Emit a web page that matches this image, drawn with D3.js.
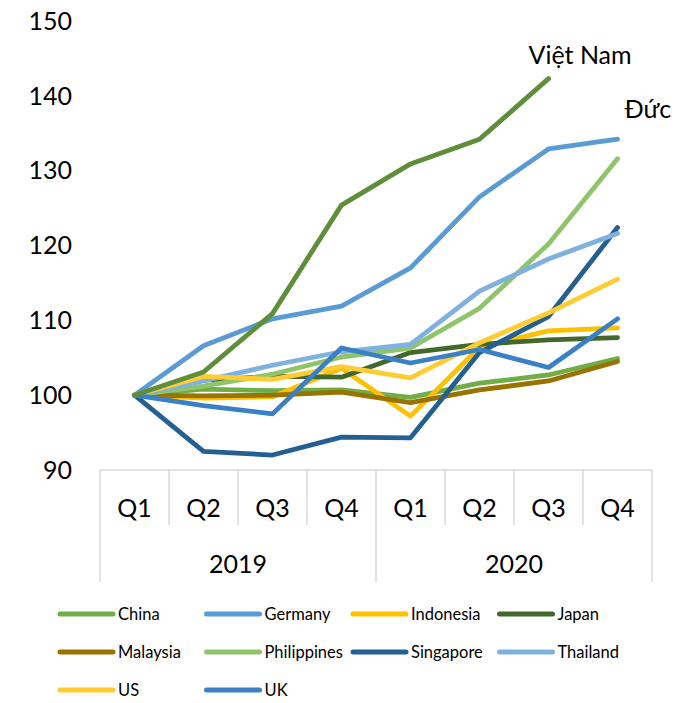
<!DOCTYPE html>
<html>
<head>
<meta charset="utf-8">
<script src="https://cdn.jsdelivr.net/npm/d3@7"></script>
<style>
  body { margin: 0; background: #fff; }
  svg { display: block; font-family: Lato, "Open Sans", sans-serif; }
</style>
</head>
<body>
<svg id="chart" width="698" height="703"></svg>
<script>
// Data
const quarters = ['Q1', 'Q2', 'Q3', 'Q4', 'Q1', 'Q2', 'Q3', 'Q4']
const years = ['2019', '2020']
const yTicks = [90, 100, 110, 120, 130, 140, 150]

const china = [100, 100.8, 100.6, 100.7, 99.7, 101.6, 102.7, 104.9]
const germany = [100, 106.6, 110.2, 111.9, 117.0, 126.5, 132.9, 134.2]
const indonesia = [100, 99.6, 99.8, 103.6, 97.2, 106.4, 108.6, 109.0]
const japan = [100, 102.0, 102.5, 102.4, 105.7, 106.8, 107.4, 107.7]
const malaysia = [100, 99.9, 100.0, 100.4, 99.0, 100.7, 101.9, 104.5]
const philippines = [100, 101.2, 102.8, 105.1, 106.3, 111.6, 120.2, 131.6]
const singapore = [100, 92.5, 92.0, 94.4, 94.3, 105.7, 110.5, 122.4]
const thailand = [100, 101.9, 104.0, 105.8, 106.8, 113.9, 118.2, 121.6]
const us = [100, 102.5, 102.1, 103.8, 102.3, 107.0, 111.0, 115.5]
const uk = [100, 98.6, 97.5, 106.3, 104.3, 106.1, 103.7, 110.2]
const vietnam = [100, 103.1, 110.9, 125.4, 130.9, 134.2, 142.3]

const seriesNames = ['China', 'Germany', 'Indonesia', 'Japan', 'Malaysia', 'Philippines', 'Singapore', 'Thailand', 'US', 'UK']
const seriesValues = [china, germany, indonesia, japan, malaysia, philippines, singapore, thailand, us, uk]
const seriesColors = ['#70AD47', '#5B9BD5', '#FFC000', '#43682B', '#997300', '#8FC46A', '#255E91', '#7FB1E0', '#FFCD33', '#3A80C4']
const vietnamColor = '#5E8E3A'

const svg = d3.select('#chart')

// Scales
const xScale = d3.scaleBand()
    .domain(d3.range(quarters.length))
    .range([100, 652])
const yScale = d3.scaleLinear()
    .domain([90, 150])
    .range([470, 21])
const xPos = i => xScale(i) + xScale.bandwidth() / 2

// Y tick labels
svg.append('g')
    .selectAll('text')
    .data(yTicks)
    .join('text')
    .attr('x', 72)
    .attr('y', d => yScale(d))
    .attr('dy', '0.35em')
    .attr('text-anchor', 'end')
    .attr('font-size', 25)
    .attr('fill', '#000')
    .text(d => d)

// Multi-level category axis
const axisG = svg.append('g').attr('stroke', '#D9D9D9').attr('stroke-width', 1.5)
axisG.append('line')
    .attr('x1', xScale.range()[0]).attr('x2', xScale.range()[1])
    .attr('y1', yScale(90)).attr('y2', yScale(90))
// boundaries between quarters
for (let i = 0; i <= quarters.length; ++i) {
    const bx = i < quarters.length ? xScale(i) : xScale.range()[1]
    const outer = i % 4 == 0
    axisG.append('line')
        .attr('x1', bx).attr('x2', bx)
        .attr('y1', yScale(90))
        .attr('y2', outer ? 582 : 525)
}

svg.append('g')
    .selectAll('text')
    .data(quarters)
    .join('text')
    .attr('x', (d, i) => xPos(i))
    .attr('y', 517)
    .attr('text-anchor', 'middle')
    .attr('font-size', 25)
    .text(d => d)

svg.append('g')
    .selectAll('text')
    .data(years)
    .join('text')
    .attr('x', (d, i) => (xScale(i * 4) + xScale(i * 4 + 3) + xScale.bandwidth()) / 2)
    .attr('y', 573)
    .attr('text-anchor', 'middle')
    .attr('font-size', 25)
    .text(d => d)

// Lines
const line = d3.line()
    .x((d, i) => xPos(i))
    .y(d => yScale(d))

const linesG = svg.append('g')
    .attr('fill', 'none')
    .attr('stroke-width', 4.8)
    .attr('stroke-linejoin', 'round')
    .attr('stroke-linecap', 'round')

seriesValues.forEach((vals, k) => {
    linesG.append('path')
        .attr('d', line(vals))
        .attr('stroke', seriesColors[k])
})
linesG.append('path')
    .attr('d', line(vietnam))
    .attr('stroke', vietnamColor)

// Direct labels
const vnEnd = vietnam.length - 1
svg.append('text')
    .attr('x', xPos(vnEnd) - 20)
    .attr('y', yScale(vietnam[vnEnd]) - 15)
    .attr('font-size', 25)
    .text('Việt Nam')
svg.append('text')
    .attr('x', xPos(germany.length - 1) + 7)
    .attr('y', yScale(germany[germany.length - 1]) - 21)
    .attr('font-size', 25)
    .text('Đức')

// Legend
const legendG = svg.append('g')
seriesNames.forEach((name, k) => {
    const col = k % 4
    const row = Math.floor(k / 4)
    const lx = 60 + col * 146.5
    const ly = 614 + row * 38
    legendG.append('line')
        .attr('x1', lx).attr('x2', lx + 53)
        .attr('y1', ly).attr('y2', ly)
        .attr('stroke', seriesColors[k])
        .attr('stroke-width', 5)
        .attr('stroke-linecap', 'round')
    legendG.append('text')
        .attr('x', lx + 58)
        .attr('y', ly)
        .attr('dy', '0.35em')
        .attr('font-size', 16.5)
        .text(name)
})
</script>
</body>
</html>
